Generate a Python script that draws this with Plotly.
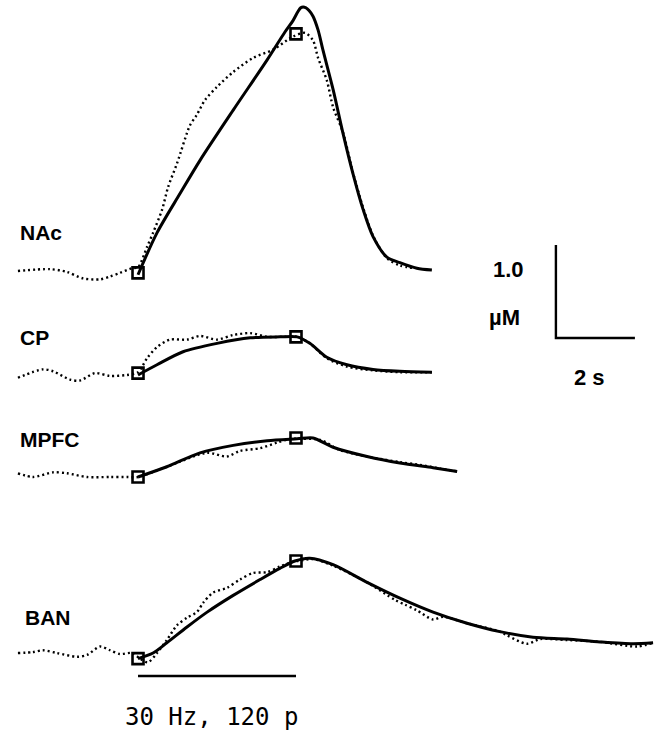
import plotly.graph_objects as go

# ---------------- data (time in s from stimulus onset, concentration in µM above baseline) ----------------
regions = ["NAc", "CP", "MPFC", "BAN"]

nac_obs_t = [-3.04, -2.23, -1.80, -1.39, -0.96, -0.71, -0.46, -0.15, 0.00, 0.23, 0.38, 0.61, 0.76, 0.99,
             1.32, 1.49, 1.70, 2.00, 2.41, 2.91, 3.42, 3.92, 4.23, 4.43, 4.56, 4.78, 4.94, 5.19, 5.44,
             5.70, 5.95, 6.30, 6.63, 7.01]
nac_obs_v = [0.00, 0.02, -0.01, -0.08, -0.09, -0.06, -0.02, 0.03, 0.04, 0.26, 0.41, 0.66, 0.90, 1.16,
             1.57, 1.68, 1.84, 1.98, 2.14, 2.29, 2.38, 2.52, 2.56, 2.48, 2.29, 2.05, 1.76, 1.49, 1.06,
             0.68, 0.38, 0.14, 0.06, 0.03]
nac_fit_t = [0.00, 0.48, 1.06, 1.57, 2.41, 3.27, 3.72, 3.92, 4.05, 4.12, 4.18, 4.25, 4.33, 4.43, 4.56,
             4.68, 4.94, 5.19, 5.44, 5.70, 5.95, 6.30, 6.63, 7.06, 7.44]
nac_fit_v = [-0.04, 0.41, 0.83, 1.19, 1.73, 2.27, 2.57, 2.69, 2.79, 2.83, 2.84, 2.83, 2.80, 2.74, 2.59,
             2.38, 1.95, 1.48, 1.05, 0.66, 0.37, 0.15, 0.09, 0.03, 0.01]

cp_obs_t = [-3.04, -2.41, -2.15, -1.72, -1.47, -1.09, -0.71, -0.28, 0.00, 0.23, 0.48, 0.81, 1.24, 1.57,
            2.00, 2.41, 2.84, 3.27, 3.67, 4.03, 4.35, 4.78, 5.29, 5.95, 6.63, 7.44]
cp_obs_v = [-0.03, 0.06, 0.04, -0.05, -0.06, 0.02, -0.01, 0.00, 0.03, 0.18, 0.30, 0.38, 0.38, 0.42,
            0.38, 0.43, 0.45, 0.41, 0.41, 0.41, 0.34, 0.18, 0.09, 0.05, 0.03, 0.03]
cp_fit_t = [0.00, 0.48, 1.14, 2.00, 2.84, 3.60, 4.03, 4.35, 4.78, 5.29, 5.95, 6.63, 7.44]
cp_fit_v = [0.00, 0.11, 0.25, 0.34, 0.40, 0.41, 0.41, 0.34, 0.19, 0.11, 0.06, 0.04, 0.03]

mpfc_obs_t = [-3.04, -2.66, -2.15, -1.80, -1.29, -0.71, -0.28, 0.00, 0.73, 1.75, 2.25, 2.58, 3.09, 3.52,
              3.85, 4.03, 4.61, 5.11, 5.80, 6.63, 7.14, 7.65, 8.08]
mpfc_obs_v = [0.04, 0.00, 0.05, 0.04, 0.00, 0.00, 0.00, 0.00, 0.11, 0.26, 0.22, 0.28, 0.31, 0.37,
              0.41, 0.41, 0.40, 0.29, 0.22, 0.16, 0.13, 0.09, 0.06]
mpfc_fit_t = [0.00, 0.73, 1.57, 2.41, 3.27, 4.03, 4.43, 4.94, 5.80, 6.63, 7.47, 8.08]
mpfc_fit_v = [0.00, 0.11, 0.26, 0.34, 0.39, 0.41, 0.42, 0.32, 0.22, 0.15, 0.10, 0.06]

ban_obs_t = [-3.04, -2.66, -2.41, -2.05, -1.54, -1.29, -0.96, -0.71, -0.46, -0.15, 0.05, 0.25, 0.48,
             0.73, 0.99, 1.24, 1.49, 1.65, 1.90, 2.25, 2.58, 2.91, 3.27, 3.59, 3.92, 4.05, 4.43, 4.94,
             5.80, 6.51, 6.76, 7.06, 7.47, 7.72, 8.33, 9.16, 9.34, 9.85, 10.18, 10.86, 11.70, 12.63, 13.04]
ban_obs_v = [0.01, 0.02, 0.04, 0.01, -0.03, -0.01, 0.08, 0.04, 0.00, 0.01, -0.05, -0.09, 0.01,
             0.15, 0.31, 0.39, 0.45, 0.55, 0.66, 0.71, 0.80, 0.87, 0.88, 0.94, 0.99, 1.00, 1.02, 0.95,
             0.77, 0.58, 0.53, 0.47, 0.37, 0.40, 0.33, 0.24, 0.20, 0.11, 0.16, 0.15, 0.13, 0.08, 0.12]
ban_fit_t = [0.00, 0.38, 0.73, 1.24, 1.75, 2.41, 3.09, 3.59, 3.97, 4.35, 4.94, 5.80, 6.63, 7.47, 8.33,
             9.16, 10.00, 10.86, 11.70, 12.53, 13.04]
ban_fit_v = [-0.05, 0.01, 0.12, 0.29, 0.45, 0.63, 0.80, 0.92, 1.00, 1.03, 0.96, 0.77, 0.60, 0.45, 0.33,
             0.24, 0.18, 0.16, 0.13, 0.11, 0.12]

# square markers at stimulation start / end
stim_t = [0.0, 4.0]
nac_sq_v = [-0.02, 2.55]
cp_sq_v = [0.02, 0.41]
mpfc_sq_v = [0.00, 0.42]
ban_sq_v = [-0.05, 1.00]

# vertical offsets (µM) used to stack the traces
offsets = [4.957, 3.839, 2.742, 0.839]

# scale bar (2 s, 1.0 µM) and stimulus bar
scale_t = [10.58, 10.58, 12.58]
scale_v = [5.237, 4.237, 4.237]
stim_bar_t = [0.0, 4.0]
stim_bar_v = [0.602, 0.602]

# ---------------- figure ----------------
fig = go.Figure()
series = [
    (nac_obs_t, nac_obs_v, nac_fit_t, nac_fit_v, nac_sq_v),
    (cp_obs_t, cp_obs_v, cp_fit_t, cp_fit_v, cp_sq_v),
    (mpfc_obs_t, mpfc_obs_v, mpfc_fit_t, mpfc_fit_v, mpfc_sq_v),
    (ban_obs_t, ban_obs_v, ban_fit_t, ban_fit_v, ban_sq_v),
]
for (ot, ov, ft, fv, sv), off in zip(series, offsets):
    fig.add_trace(go.Scatter(x=ot, y=[v + off for v in ov], mode="lines",
                             line=dict(color="black", width=2.4, dash="2px,3px", shape="spline", smoothing=0.8),
                             hoverinfo="skip"))
    fig.add_trace(go.Scatter(x=ft, y=[v + off for v in fv], mode="lines",
                             line=dict(color="black", width=3, shape="spline", smoothing=0.8),
                             hoverinfo="skip"))
    fig.add_trace(go.Scatter(x=stim_t, y=[v + off for v in sv], mode="markers",
                             marker=dict(symbol="square-open", size=11, color="black", line=dict(width=2.6)),
                             hoverinfo="skip"))

fig.add_trace(go.Scatter(x=scale_t, y=scale_v, mode="lines",
                         line=dict(color="black", width=2.4), hoverinfo="skip"))
fig.add_trace(go.Scatter(x=stim_bar_t, y=stim_bar_v, mode="lines",
                         line=dict(color="black", width=2.4), hoverinfo="skip"))

label_font = dict(family="Liberation Sans, Arial, sans-serif", size=21, color="black")
label_pos = [(-3.04, 5.376), (-3.04, 4.247), (-3.04, 3.140), (-2.91, 1.226)]
for name, (lx, ly) in zip(regions, label_pos):
    fig.add_annotation(x=lx, y=ly, text="<b>" + name + "</b>", showarrow=False,
                       xanchor="left", yanchor="middle", font=label_font)

scale_font = dict(family="Liberation Sans, Arial, sans-serif", size=22, color="black")
fig.add_annotation(x=9.37, y=4.968, text="<b>1.0</b>", showarrow=False, font=scale_font)
fig.add_annotation(x=9.29, y=4.462, text="<b>µM</b>", showarrow=False, font=scale_font)
fig.add_annotation(x=11.44, y=3.817, text="<b>2 s</b>", showarrow=False, font=scale_font)
fig.add_annotation(x=1.86, y=0.161, text="30 Hz, 120 p", showarrow=False,
                   font=dict(family="DejaVu Sans Mono, monospace", size=24, color="black"))

fig.update_layout(
    width=659, height=732,
    margin=dict(l=0, r=0, t=0, b=0),
    paper_bgcolor="white", plot_bgcolor="white",
    showlegend=False,
    xaxis=dict(range=[-3.494, 13.190], visible=False, fixedrange=True),
    yaxis=dict(range=[0, 7.871], visible=False, fixedrange=True),
)

fig.write_html("out.html")
